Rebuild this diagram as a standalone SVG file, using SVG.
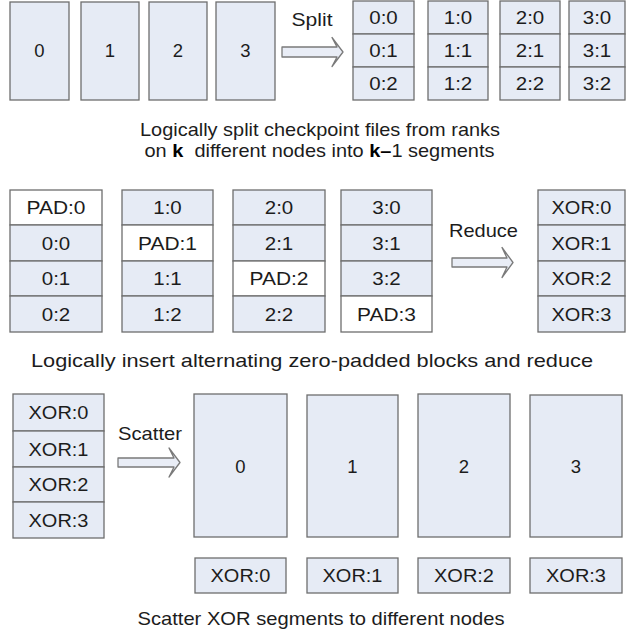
<svg xmlns="http://www.w3.org/2000/svg" width="626" height="634" viewBox="0 0 626 634">
  <style>
    .cell { fill: #e6ebf5; stroke: #6e6e6e; stroke-width: 1.3; }
    .pad { fill: #ffffff; }
    .arrow { fill: #e9edf6; stroke: #7a7a7a; stroke-width: 1.3; stroke-linejoin: round; }
    .lbl { font-family: "Liberation Sans", Arial, sans-serif; font-size: 18.5px; fill: #1c1c1c; text-anchor: middle; }
    .cap { font-family: "Liberation Sans", Arial, sans-serif; font-size: 19px; fill: #1c1c1c; text-anchor: middle; }
    .b { font-weight: bold; fill: #000; }
  </style>

  <rect width="626" height="634" fill="#ffffff"/>

  <!-- Section 1: checkpoint files per rank -->
  <g id="file-0"><rect class="cell" x="10" y="2" width="59" height="98"/><text class="lbl" x="39.5" y="57">0</text></g>
  <g id="file-1"><rect class="cell" x="81" y="2" width="58" height="98"/><text class="lbl" x="110" y="57">1</text></g>
  <g id="file-2"><rect class="cell" x="149" y="2" width="58" height="98"/><text class="lbl" x="178" y="57">2</text></g>
  <g id="file-3"><rect class="cell" x="216" y="2" width="59" height="98"/><text class="lbl" x="245.5" y="57">3</text></g>

  <!-- Split segments -->
  <g id="split-0">
    <rect class="cell" x="353" y="1" width="61" height="33"/><text class="lbl" x="383.5" y="24" textLength="28.5" lengthAdjust="spacingAndGlyphs">0:0</text>
    <rect class="cell" x="353" y="34" width="61" height="33"/><text class="lbl" x="383.5" y="57" textLength="28.5" lengthAdjust="spacingAndGlyphs">0:1</text>
    <rect class="cell" x="353" y="67" width="61" height="33"/><text class="lbl" x="383.5" y="90" textLength="28.5" lengthAdjust="spacingAndGlyphs">0:2</text>
  </g>
  <g id="split-1">
    <rect class="cell" x="428" y="1" width="60" height="33"/><text class="lbl" x="458" y="24" textLength="28.5" lengthAdjust="spacingAndGlyphs">1:0</text>
    <rect class="cell" x="428" y="34" width="60" height="33"/><text class="lbl" x="458" y="57" textLength="28.5" lengthAdjust="spacingAndGlyphs">1:1</text>
    <rect class="cell" x="428" y="67" width="60" height="33"/><text class="lbl" x="458" y="90" textLength="28.5" lengthAdjust="spacingAndGlyphs">1:2</text>
  </g>
  <g id="split-2">
    <rect class="cell" x="500" y="1" width="60" height="33"/><text class="lbl" x="530" y="24" textLength="28.5" lengthAdjust="spacingAndGlyphs">2:0</text>
    <rect class="cell" x="500" y="34" width="60" height="33"/><text class="lbl" x="530" y="57" textLength="28.5" lengthAdjust="spacingAndGlyphs">2:1</text>
    <rect class="cell" x="500" y="67" width="60" height="33"/><text class="lbl" x="530" y="90" textLength="28.5" lengthAdjust="spacingAndGlyphs">2:2</text>
  </g>
  <g id="split-3">
    <rect class="cell" x="569" y="1" width="56" height="33"/><text class="lbl" x="597" y="24" textLength="28.5" lengthAdjust="spacingAndGlyphs">3:0</text>
    <rect class="cell" x="569" y="34" width="56" height="33"/><text class="lbl" x="597" y="57" textLength="28.5" lengthAdjust="spacingAndGlyphs">3:1</text>
    <rect class="cell" x="569" y="67" width="56" height="33"/><text class="lbl" x="597" y="90" textLength="28.5" lengthAdjust="spacingAndGlyphs">3:2</text>
  </g>

  <g id="caption-split">
    <text class="cap" x="320" y="136" textLength="360" lengthAdjust="spacingAndGlyphs">Logically split checkpoint files from ranks</text>
    <text class="cap" x="319.5" y="157" textLength="350" lengthAdjust="spacingAndGlyphs">on <tspan class="b">k</tspan>&#160; different nodes into <tspan class="b">k–</tspan>1 segments</text>
  </g>

  <!-- Section 2: padded columns -->
  <g id="pad-col-0">
    <rect class="cell pad" x="10" y="190" width="92" height="35"/><text class="lbl" x="56" y="214" textLength="59" lengthAdjust="spacingAndGlyphs">PAD:0</text>
    <rect class="cell" x="10" y="225" width="92" height="36"/><text class="lbl" x="56" y="249.5" textLength="28.5" lengthAdjust="spacingAndGlyphs">0:0</text>
    <rect class="cell" x="10" y="261" width="92" height="35"/><text class="lbl" x="56" y="285" textLength="28.5" lengthAdjust="spacingAndGlyphs">0:1</text>
    <rect class="cell" x="10" y="296" width="92" height="36"/><text class="lbl" x="56" y="320.5" textLength="28.5" lengthAdjust="spacingAndGlyphs">0:2</text>
  </g>
  <g id="pad-col-1">
    <rect class="cell" x="122" y="190" width="91" height="35"/><text class="lbl" x="167.5" y="214" textLength="28.5" lengthAdjust="spacingAndGlyphs">1:0</text>
    <rect class="cell pad" x="122" y="225" width="91" height="36"/><text class="lbl" x="167.5" y="249.5" textLength="59" lengthAdjust="spacingAndGlyphs">PAD:1</text>
    <rect class="cell" x="122" y="261" width="91" height="35"/><text class="lbl" x="167.5" y="285" textLength="28.5" lengthAdjust="spacingAndGlyphs">1:1</text>
    <rect class="cell" x="122" y="296" width="91" height="36"/><text class="lbl" x="167.5" y="320.5" textLength="28.5" lengthAdjust="spacingAndGlyphs">1:2</text>
  </g>
  <g id="pad-col-2">
    <rect class="cell" x="233" y="190" width="92" height="35"/><text class="lbl" x="279" y="214" textLength="28.5" lengthAdjust="spacingAndGlyphs">2:0</text>
    <rect class="cell" x="233" y="225" width="92" height="36"/><text class="lbl" x="279" y="249.5" textLength="28.5" lengthAdjust="spacingAndGlyphs">2:1</text>
    <rect class="cell pad" x="233" y="261" width="92" height="35"/><text class="lbl" x="279" y="285" textLength="59" lengthAdjust="spacingAndGlyphs">PAD:2</text>
    <rect class="cell" x="233" y="296" width="92" height="36"/><text class="lbl" x="279" y="320.5" textLength="28.5" lengthAdjust="spacingAndGlyphs">2:2</text>
  </g>
  <g id="pad-col-3">
    <rect class="cell" x="341" y="190" width="91" height="35"/><text class="lbl" x="386.5" y="214" textLength="28.5" lengthAdjust="spacingAndGlyphs">3:0</text>
    <rect class="cell" x="341" y="225" width="91" height="36"/><text class="lbl" x="386.5" y="249.5" textLength="28.5" lengthAdjust="spacingAndGlyphs">3:1</text>
    <rect class="cell" x="341" y="261" width="91" height="35"/><text class="lbl" x="386.5" y="285" textLength="28.5" lengthAdjust="spacingAndGlyphs">3:2</text>
    <rect class="cell pad" x="341" y="296" width="91" height="36"/><text class="lbl" x="386.5" y="320.5" textLength="59" lengthAdjust="spacingAndGlyphs">PAD:3</text>
  </g>

  <!-- Reduced XOR column -->
  <g id="xor-reduced">
    <rect class="cell" x="538" y="190" width="87" height="35"/><text class="lbl" x="581.5" y="214" textLength="60" lengthAdjust="spacingAndGlyphs">XOR:0</text>
    <rect class="cell" x="538" y="225" width="87" height="36"/><text class="lbl" x="581.5" y="249.5" textLength="60" lengthAdjust="spacingAndGlyphs">XOR:1</text>
    <rect class="cell" x="538" y="261" width="87" height="35"/><text class="lbl" x="581.5" y="285" textLength="60" lengthAdjust="spacingAndGlyphs">XOR:2</text>
    <rect class="cell" x="538" y="296" width="87" height="36"/><text class="lbl" x="581.5" y="320.5" textLength="60" lengthAdjust="spacingAndGlyphs">XOR:3</text>
  </g>

  <g id="caption-reduce">
    <text class="cap" x="312" y="367" textLength="562" lengthAdjust="spacingAndGlyphs">Logically insert alternating zero-padded blocks and reduce</text>
  </g>

  <!-- Section 3: scatter -->
  <g id="xor-source">
    <rect class="cell" x="13" y="394" width="91" height="37"/><text class="lbl" x="58.5" y="419" textLength="60" lengthAdjust="spacingAndGlyphs">XOR:0</text>
    <rect class="cell" x="13" y="431" width="91" height="36"/><text class="lbl" x="58.5" y="455.5" textLength="60" lengthAdjust="spacingAndGlyphs">XOR:1</text>
    <rect class="cell" x="13" y="467" width="91" height="35"/><text class="lbl" x="58.5" y="491" textLength="60" lengthAdjust="spacingAndGlyphs">XOR:2</text>
    <rect class="cell" x="13" y="502" width="91" height="36"/><text class="lbl" x="58.5" y="526.5" textLength="60" lengthAdjust="spacingAndGlyphs">XOR:3</text>
  </g>

  <g id="node-0"><rect class="cell" x="194" y="394" width="93" height="143"/><text class="lbl" x="240.5" y="472.5">0</text></g>
  <g id="node-1"><rect class="cell" x="307" y="395" width="91" height="142"/><text class="lbl" x="352.5" y="472.5">1</text></g>
  <g id="node-2"><rect class="cell" x="418" y="394" width="92" height="143"/><text class="lbl" x="464" y="472.5">2</text></g>
  <g id="node-3"><rect class="cell" x="530" y="395" width="92" height="142"/><text class="lbl" x="576" y="472.5">3</text></g>

  <g id="node-xor-0"><rect class="cell" x="195" y="558" width="91" height="35"/><text class="lbl" x="240.5" y="582" textLength="60" lengthAdjust="spacingAndGlyphs">XOR:0</text></g>
  <g id="node-xor-1"><rect class="cell" x="307" y="558" width="91" height="35"/><text class="lbl" x="352.5" y="582" textLength="60" lengthAdjust="spacingAndGlyphs">XOR:1</text></g>
  <g id="node-xor-2"><rect class="cell" x="418" y="558" width="92" height="35"/><text class="lbl" x="464" y="582" textLength="60" lengthAdjust="spacingAndGlyphs">XOR:2</text></g>
  <g id="node-xor-3"><rect class="cell" x="530" y="558" width="92" height="35"/><text class="lbl" x="576" y="582" textLength="60" lengthAdjust="spacingAndGlyphs">XOR:3</text></g>

  <g id="caption-scatter">
    <text class="cap" x="321" y="625" textLength="367" lengthAdjust="spacingAndGlyphs">Scatter XOR segments to different nodes</text>
  </g>

  <!-- Connectors: hollow block arrows with their labels -->
  <g id="connectors">
    <polygon class="arrow" points="282,47 337,47 332,37.5 343,52 332,66.5 337,57 282,57"/>
    <text class="lbl" x="312" y="26" textLength="41" lengthAdjust="spacingAndGlyphs">Split</text>
    <polygon class="arrow" points="452,258 507,258 502,247.5 513,262.5 502,277.5 507,267 452,267"/>
    <text class="lbl" x="483.5" y="237" textLength="69" lengthAdjust="spacingAndGlyphs">Reduce</text>
    <polygon class="arrow" points="118,458 174,458 169,448 180,462.5 169,477 174,467 118,467"/>
    <text class="lbl" x="150" y="440" textLength="64" lengthAdjust="spacingAndGlyphs">Scatter</text>
  </g>
</svg>
